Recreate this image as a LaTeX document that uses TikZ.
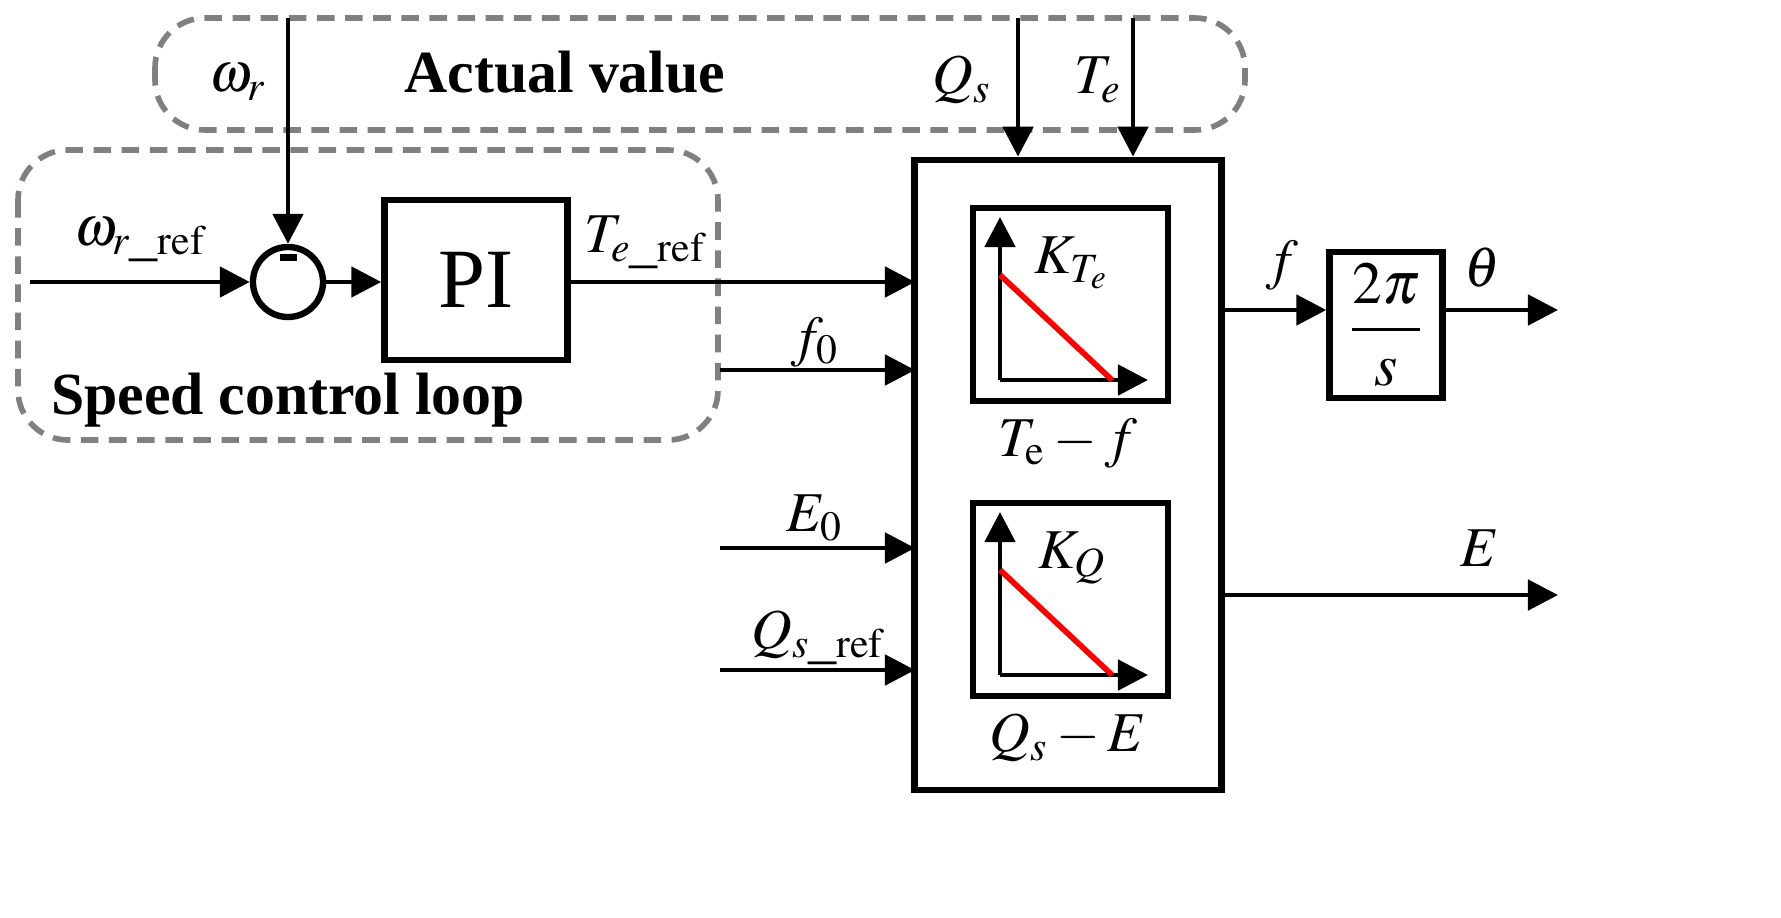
\documentclass[tikz,border=0pt]{standalone}
\usepackage{mathptmx}
\usepackage[no-math]{fontspec}
\setmainfont{Liberation Serif}
\usetikzlibrary{arrows.meta}
\begin{document}
\begin{tikzpicture}[x=0.01cm,y=-0.01cm,
  ln/.style={line width=1.4pt},
  arr/.style={ln,-{Triangle[length=0.3cm,width=0.3cm]}},
  dsh/.style={draw=gray,line width=1.6pt,dash pattern=on 5pt off 3pt,rounded corners=0.5cm},
  lab/.style={font=\fontsize{16}{18}\selectfont},
  ttl/.style={font=\fontsize{17}{20}\selectfont\bfseries}]
\draw[dsh] (155,18) rectangle (1245,130);
\draw[dsh] (18,150) rectangle (718,440);
\node[ttl] (av) at (565,72) {Actual value};
\node[ttl] (scl) at (288,400) {Speed control loop};
% summing junction
\node[circle,draw,line width=1.8pt,minimum size=0.7cm,inner sep=0] (sum) at (288,282) {};
\fill (280,254) rectangle (297,261);
\coordinate (wtop) at (288,18);
\coordinate (win) at (30,282);
\draw[arr] (wtop) -- (sum.north);
\draw[arr] (win) -- (sum.west);
\node[lab] at (238,82) {$\omega_r$};
\node[lab] at (140,240) {$\omega_{r\_\mathrm{ref}}$};
\node[draw,line width=1.8pt,minimum width=1.83cm,minimum height=1.6cm,font=\fontsize{24}{28}\selectfont] (pi) at (476,280) {PI};
\draw[arr] (sum.east) -- (pi.west|-sum);
% big box
\node[draw,line width=1.8pt,minimum width=3.07cm,minimum height=6.3cm] (big) at (1068,475) {};
\coordinate (bw) at (915,0);
\draw[arr] (pi.east|-sum) -- (bw|-sum);
\node[lab] at (645,242) {$T_{e\_\mathrm{ref}}$};
\coordinate (f0s) at (720,370);
\coordinate (e0s) at (720,548);
\coordinate (qrs) at (720,670);
\draw[arr] (f0s) -- (bw|-f0s);
\draw[arr] (e0s) -- (bw|-e0s);
\draw[arr] (qrs) -- (bw|-qrs);
\node[lab] at (815,342) {$f_0$};
\node[lab] at (815,518) {$E_0$};
\node[lab] at (818,638) {$Q_{s\_\mathrm{ref}}$};
\coordinate (qs) at (1018,18);
\coordinate (te) at (1133,18);
\draw[arr] (qs) -- (qs|-big.north);
\draw[arr] (te) -- (te|-big.north);
\node[lab] at (962,80) {$Q_s$};
\node[lab] at (1098,80) {$T_e$};
% inner boxes
\foreach \y/\k/\l/\n in {205/{K_{T_e}}/{T_\mathrm{e}-f}/1, 500/{K_Q}/{Q_s-E}/2}{
  \node[draw,line width=1.8pt,minimum width=1.95cm,minimum height=1.93cm,anchor=north west] (ib\n) at (970,\y) {};
  \draw[arr] (1000,\y+175) -- (1000,\y+12);
  \draw[arr] (1000,\y+175) -- (1148,\y+175);
  \draw[red,line width=1.6pt] (1000,\y+70) -- (1112,\y+175);
  \node[lab] at (1072,\y+58) {$\k$};
  \node[lab] at (1068,\y+238) {$\l$};
}
% outputs
\node[draw,line width=1.8pt,minimum width=1.13cm,minimum height=1.4cm,font=\fontsize{17}{20}\selectfont] (int) at (1386,325) {$\displaystyle\frac{2\pi}{s}$};
\coordinate (fo) at (1222,310);
\draw[arr] (fo) -- (int.west|-fo);
\coordinate (th) at (1558,310);
\draw[arr] (int.east|-fo) -- (th);
\node[lab] at (1282,265) {$f$};
\node[lab] at (1482,268) {$\theta$};
\coordinate (eo) at (1222,595);
\coordinate (ee) at (1558,595);
\draw[arr] (eo) -- (ee);
\node[lab] at (1480,548) {$E$};
\pgfresetboundingbox
\path[use as bounding box] (0,0) rectangle (1781,918);
\end{tikzpicture}
\end{document}
